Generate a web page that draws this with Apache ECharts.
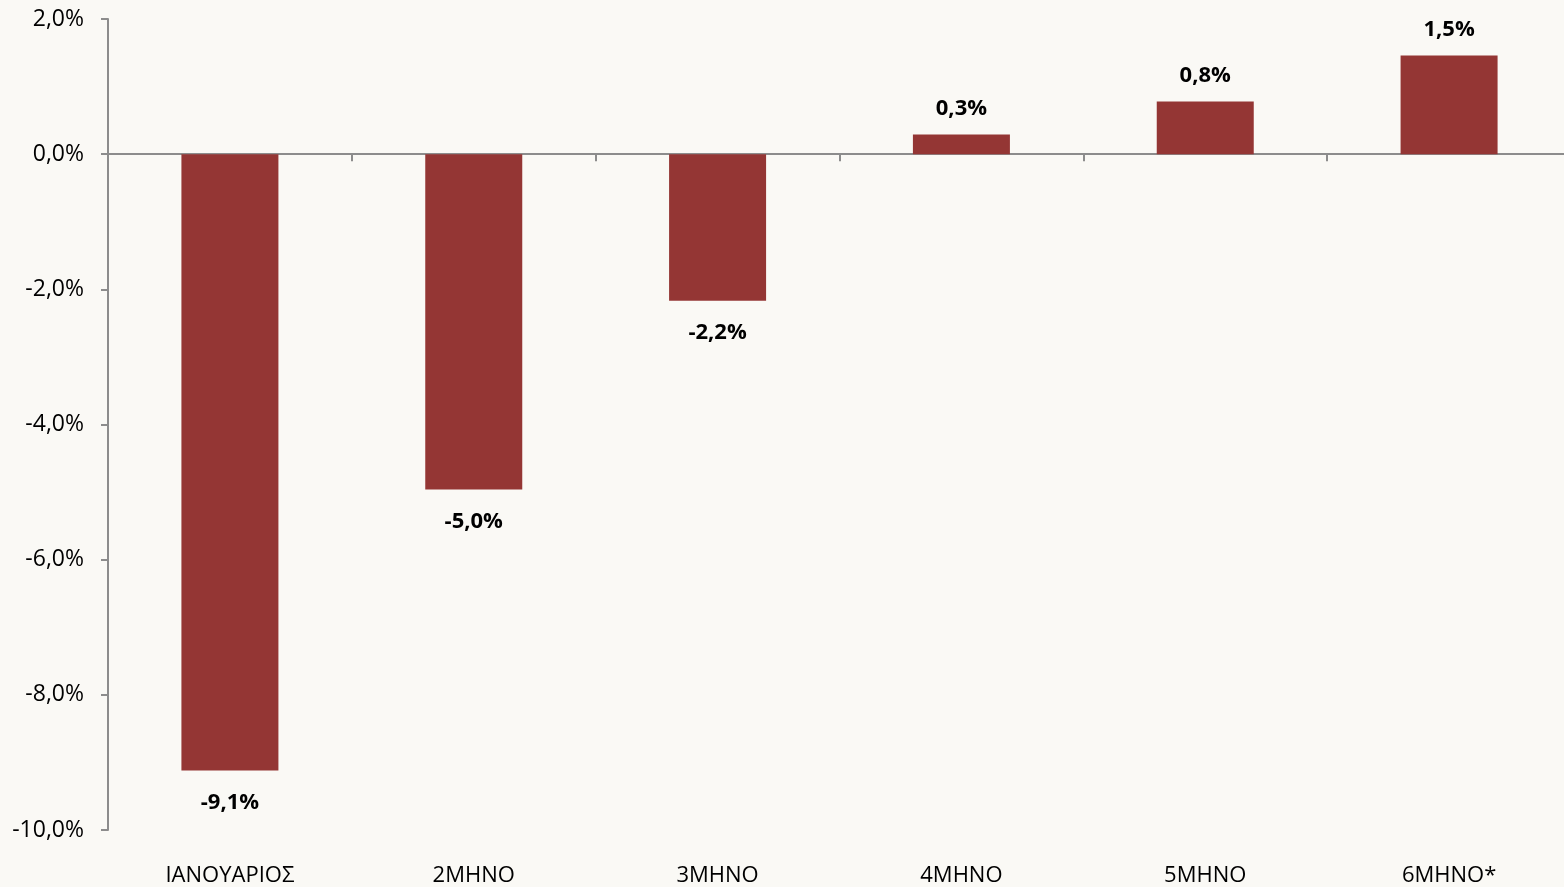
<!DOCTYPE html>
<html>
<head>
<meta charset="utf-8">
<script src="https://cdn.jsdelivr.net/npm/echarts@6/dist/echarts.min.js"></script>
<style>
html,body{margin:0;padding:0;background:#FAF9F5;overflow:hidden;}
#c{width:1571px;height:887px;}
</style>
</head>
<body>
<div id="c"></div>
<script>
const categories = ['ΙΑΝΟΥΑΡΙΟΣ', '2ΜΗΝΟ', '3ΜΗΝΟ', '4ΜΗΝΟ', '5ΜΗΝΟ', '6ΜΗΝΟ*'];
const values = [-9.12, -4.96, -2.17, 0.29, 0.78, 1.46];
const yMin = -10, yMax = 2, yStep = 2;

const fmt = v => v.toFixed(1).replace('.', ',') + '%';
const FONT = 'Open Sans';
const axisColor = '#8C8C8C';

const chart = echarts.init(document.getElementById('c'));
chart.setOption({
  backgroundColor: '#FAF9F5',
  animation: false,
  grid: {left: 108, right: 0, top: 19, bottom: 56, containLabel: false},
  xAxis: [
    {
      type: 'category', data: categories,
      axisLine: {show: true, onZero: true, lineStyle: {color: axisColor, width: 2}},
      axisTick: {show: true, length: 7, lineStyle: {color: axisColor, width: 2}},
      axisLabel: {show: false}
    },
    {
      type: 'category', data: categories, position: 'bottom',
      axisLine: {show: false, onZero: false},
      axisTick: {show: false},
      axisLabel: {show: true, margin: 35, color: '#000', fontFamily: FONT, fontSize: 22}
    }
  ],
  yAxis: {
    type: 'value', min: yMin, max: yMax, interval: yStep,
    axisLine: {show: true, lineStyle: {color: axisColor, width: 2}},
    axisTick: {show: true, length: 7, lineStyle: {color: axisColor, width: 2}},
    splitLine: {show: false},
    axisLabel: {formatter: v => fmt(v), color: '#000', fontFamily: FONT, fontSize: 23, margin: 24}
  },
  series: [{
    type: 'bar', xAxisIndex: 0, data: values.map(v => ({
      value: v,
      label: {position: v < 0 ? 'bottom' : 'top', distance: v < 0 ? 21 : 15}
    })),
    barWidth: 97,
    itemStyle: {color: '#943634'},
    label: {
      show: true, formatter: p => fmt(p.value),
      color: '#000', fontFamily: FONT, fontWeight: 'bold', fontSize: 22
    }
  }]
});
</script>
</body>
</html>
